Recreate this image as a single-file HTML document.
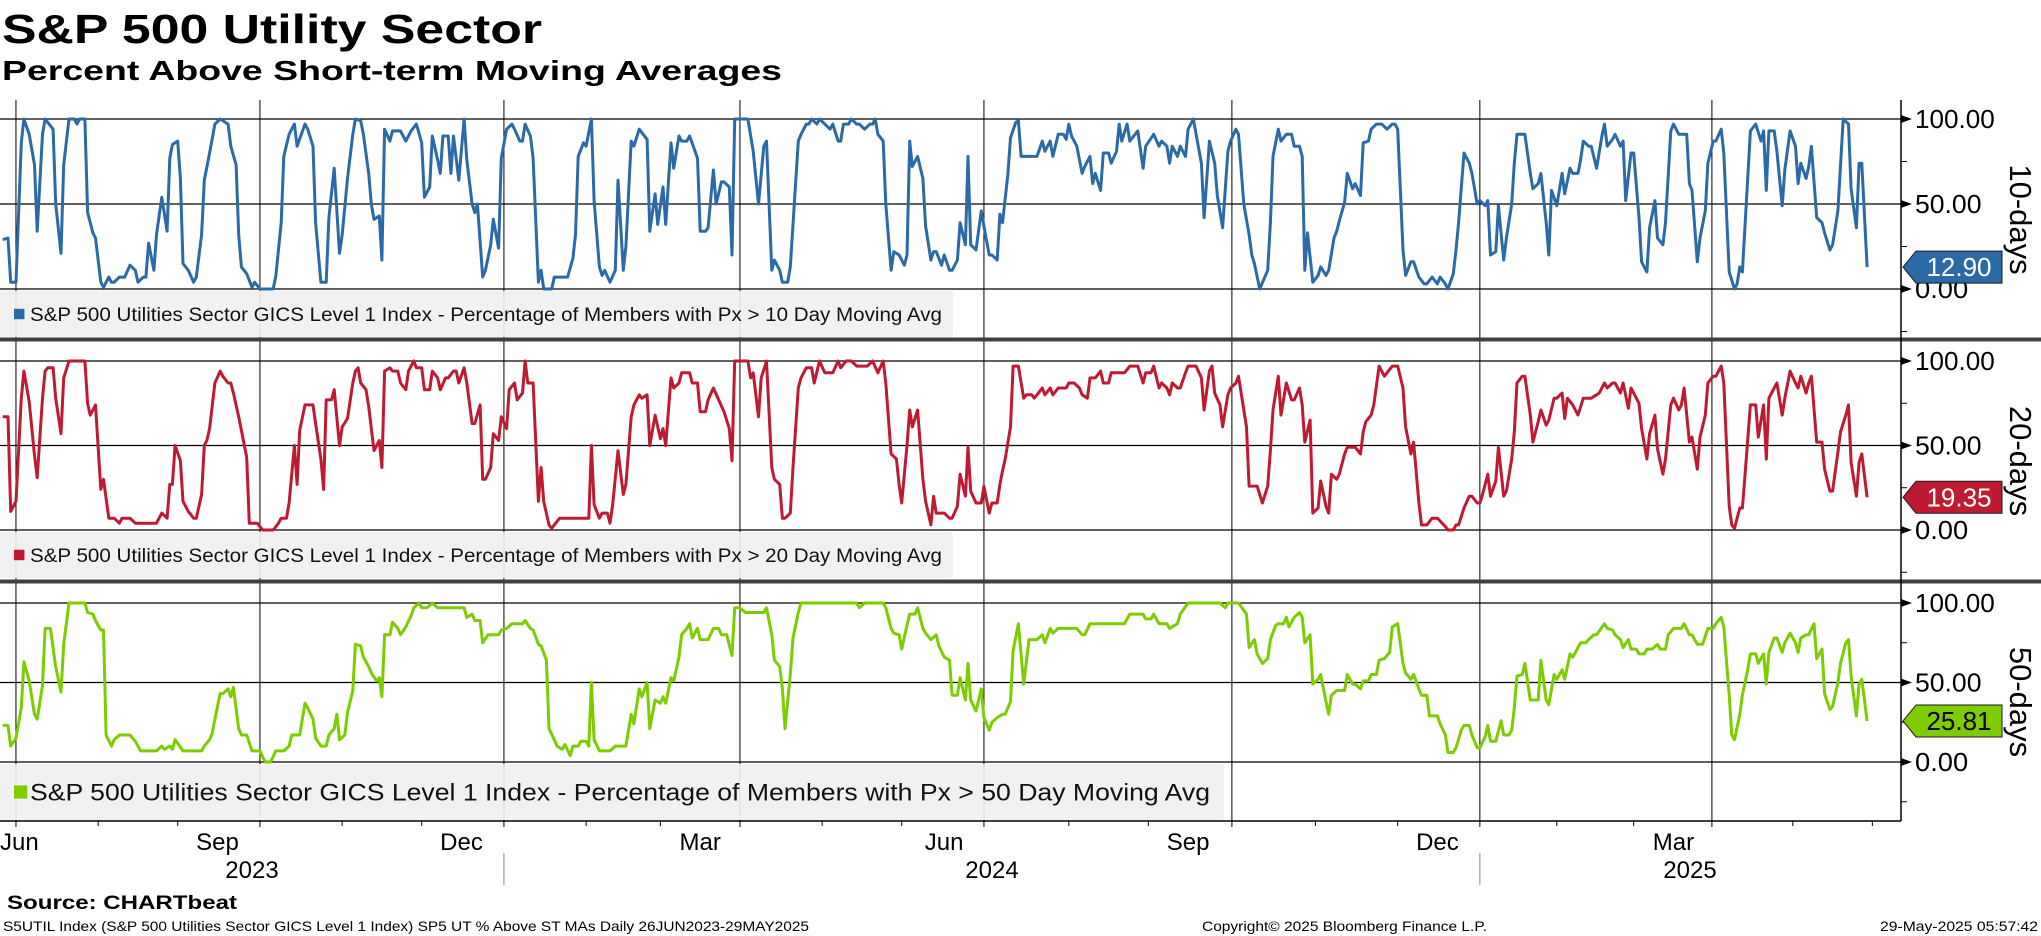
<!DOCTYPE html>
<html><head><meta charset="utf-8"><style>
html,body{margin:0;padding:0;background:#fff;}
svg{display:block;font-family:"Liberation Sans","DejaVu Sans",sans-serif;}
</style></head><body>
<svg id="chart" width="2041" height="936" viewBox="0 0 2041 936">
<text x="2" y="43" font-size="41" font-weight="bold" textLength="540" lengthAdjust="spacingAndGlyphs">S&amp;P 500 Utility Sector</text>
<text x="2" y="80" font-size="28" font-weight="bold" textLength="780" lengthAdjust="spacingAndGlyphs">Percent Above Short-term Moving Averages</text>
<g id="grid"></g>
<g id="legends"></g>
<g id="series"></g>
<g id="axes"></g>
<text x="7" y="909" font-size="19" font-weight="bold" textLength="230" lengthAdjust="spacingAndGlyphs">Source: CHARTbeat</text>
<text x="3" y="931" font-size="14" textLength="806" lengthAdjust="spacingAndGlyphs">S5UTIL Index (S&amp;P 500 Utilities Sector GICS Level 1 Index) SP5 UT % Above ST MAs  Daily 26JUN2023-29MAY2025</text>
<text x="1202" y="931" font-size="14" textLength="285" lengthAdjust="spacingAndGlyphs">Copyright© 2025 Bloomberg Finance L.P.</text>
<text x="1880" y="931" font-size="14" textLength="158" lengthAdjust="spacingAndGlyphs">29-May-2025 05:57:42</text>
</svg>
<script>
// ---- data (day offset from 26JUN2023 on trading-axis, value %) ----
const blueDays = [
0,2,3,5,7,8,10,12,13,15,
16,19,20,22,23,25,27,28,29,31,
32,34,35,37,38,40,41,42,44,46,
48,50,51,53,54,55,57,58,60,62,
63,64,66,67,68,70,72,73,75,76,
78,80,82,85,86,88,89,90,92,94,
95,97,102,103,105,106,108,110,111,114,
115,117,118,120,122,123,125,127,128,130,
132,133,135,136,138,139,140,142,143,144,
146,147,150,152,154,156,158,159,161,162,
164,165,166,168,169,170,172,174,175,177,
178,179,181,182,184,185,187,188,190,192,
193,195,196,197,199,200,202,203,204,207,
208,213,215,216,217,219,220,222,223,225,
226,227,229,231,232,234,235,237,
238,240,243,244,246,247,249,250,252,253,
255,256,258,259,262,263,265,266,268,269,
271,272,274,275,276,281,283,285,287,288,
290,291,293,294,296,297,300,301,303,304,
305,307,308,310,312,313,315,316,317,319,
320,322,323,325,327,328,329,330,332,333,
335,336,338,340,341,342,343,345,347,348,
350,351,352,354,355,357,358,360,361,363,
364,365,367,369,370,372,373,375,376,377,
379,380,382,383,384,390,392,393,395,396,
398,400,401,402,403,405,407,408,410,411,
412,414,415,417,418,420,421,422,424,425,
428,430,431,434,436,437,439,440,441,443,
444,446,447,449,450,452,453,455,457,458,
460,462,463,465,466,468,470,471,472,
474,477,478,479,481,482,484,486,487,489,
490,491,492,494,496,497,499,500,502,503,
504,506,507,509,510,512,513,515,516,518,
520,522,524,525,526,528,529,531,532,534,
536,537,539,541,542,544,545,547,548,549,
551,553,554,556,557,559,560,561,563,564,
566,567,569,570,571,574,576,577,579,580,
582,583,584,586,588,589,591,592,594,595,
596,598,599,601,603,604,605,607,608,610,
611,612,614,615,617,618,620,621,623,624,
626,627,629,630,632,635,636,637,639,640,
642,643,645,646,648,649,651,653,654,655,
656,659,661,663,664,665,666,668,669,671,
672,674,676,677,678,680,681,682,684,686,
687,689,690,692,694,696,697,699,700,701,
703];
const blueVals = [
29,30,4,4,86,100,91,73,34,91,
100,94,50,21,73,100,100,97,100,100,
45,33,30,4,1,7,4,4,7,7,
14,11,4,7,7,27,11,32,54,34,
77,85,87,65,15,11,4,7,32,64,
80,97,100,97,84,73,32,13,9,1,
4,0,0,8,39,78,91,97,84,97,
94,84,39,4,4,42,71,21,32,65,
91,100,99,91,68,50,41,43,17,94,
87,93,93,87,93,97,86,54,60,90,
76,68,90,90,68,90,64,100,76,50,
45,50,7,11,26,41,24,77,94,97,
94,87,87,97,90,77,4,11,0,0,
7,7,18,32,78,86,84,100,52,13,
8,11,4,11,64,11,25,87,
84,94,88,34,56,38,60,38,86,71,
90,87,87,90,77,34,34,36,70,50,
63,63,60,20,100,100,81,50,84,87,
11,17,11,4,4,13,87,91,97,97,
100,97,100,97,94,97,87,87,97,97,
100,97,97,94,97,97,100,91,87,50,
11,22,20,14,20,87,72,78,65,37,
17,22,22,14,20,11,11,17,39,26,
78,26,23,46,37,20,20,17,44,39,
67,89,98,99,78,78,87,81,87,78,
91,91,88,97,90,84,68,72,78,62,
68,58,80,80,74,81,97,87,97,87,
93,71,84,91,84,87,84,74,84,78,
84,78,94,100,91,74,42,87,74,55,
36,81,87,94,91,50,32,20,15,
0,11,39,78,94,87,91,91,84,84,
78,11,33,4,8,13,8,11,30,34,
40,51,68,59,62,55,86,87,94,97,
97,94,97,97,94,23,8,16,16,7,
3,3,7,3,7,3,0,9,23,39,
80,74,68,50,52,49,52,20,22,49,
17,30,50,74,91,91,68,59,62,68,
39,20,58,49,68,56,71,68,68,76,
87,84,84,71,90,97,84,88,91,84,
87,52,80,80,42,16,10,36,52,30,
26,39,93,97,91,91,62,58,16,30,
46,74,87,87,94,80,10,0,3,13,
10,93,97,87,93,58,93,93,81,49,
70,93,84,62,74,65,72,84,42,39,
33,23,26,46,100,97,59,36,74,74,
12.90];

const redDays = [
0,2,3,5,7,8,10,12,13,15,
16,17,19,20,22,23,25,31,32,33,
35,37,38,40,42,44,45,48,50,58,
60,62,63,64,65,67,68,70,72,73,
75,76,77,78,80,82,83,85,86,87,
89,90,92,93,96,98,102,104,105,107,
108,110,111,112,114,117,118,120,121,122,
124,125,127,128,130,132,133,134,135,137,
138,140,142,143,144,146,147,149,150,152,
153,155,156,158,159,161,162,164,165,167,
168,170,171,172,174,175,177,178,180,181,
182,184,185,187,188,190,191,193,194,196,
197,198,200,202,203,204,206,207,210,221,
222,223,225,226,228,229,230,232,234,235,
237,
238,240,241,243,244,246,248,249,250,252,
253,255,256,259,260,262,263,265,266,268,
270,272,274,275,276,281,282,283,285,286,
288,290,291,293,294,295,297,298,300,301,
303,305,306,308,310,313,315,316,318,320,
322,326,328,330,332,333,335,337,338,339,
341,342,343,345,347,348,350,351,352,355,
357,358,360,361,363,364,365,367,369,370,
372,373,375,376,377,378,380,381,383,385,
386,388,389,390,392,393,395,396,398,401,
402,404,406,407,409,410,412,414,415,417,
418,423,425,428,430,431,433,434,436,437,
439,440,441,443,444,446,447,450,452,453,
455,456,457,459,460,462,463,465,466,469,
470,473,
475,477,478,479,481,482,484,486,487,489,
490,491,493,494,496,497,499,500,501,503,
504,506,507,510,512,513,514,516,517,519,
521,524,526,528,529,531,532,534,535,537,
539,541,544,545,547,548,549,551,553,554,
556,557,558,560,561,563,564,566,567,569,
570,571,573,574,576,577,579,580,582,583,
585,586,588,589,590,592,594,596,599,601,
602,604,605,607,608,610,611,613,614,615,
617,618,620,621,623,624,626,627,629,630,
632,633,634,636,637,639,640,642,643,645,
646,648,649,651,652,653,655,656,657,659,
661,662,664,665,666,668,669,671,672,674,
676,677,678,680,681,682,684,686,687,689,
690,692,693,695,696,697,699,700,701,703];
const redVals = [
67,67,11,17,78,94,76,44,31,78,
94,96,96,78,57,90,100,100,75,68,
74,24,30,7,7,4,7,7,4,4,
10,7,27,27,50,41,17,11,7,7,
21,50,53,60,87,94,91,87,87,81,
67,59,43,4,4,0,0,4,7,7,
16,50,27,59,74,74,63,42,24,77,
77,83,50,61,66,87,94,96,87,83,
73,47,53,37,94,96,94,94,87,83,
94,100,96,96,83,83,94,90,83,90,
90,94,94,87,96,87,63,63,74,30,
30,37,57,53,67,60,83,87,77,81,
100,87,87,17,37,17,3,1,7,7,
50,15,7,10,10,4,15,47,21,27,
67,
74,80,78,80,50,68,54,60,50,90,
84,87,93,93,87,87,70,70,77,84,
77,70,60,41,100,100,90,93,67,90,
100,37,30,27,7,7,10,37,84,90,
96,96,87,100,93,93,100,96,100,100,
97,97,100,93,100,87,45,42,27,16,
50,71,61,71,30,17,3,20,10,10,
7,7,14,33,20,49,23,16,16,26,
10,16,16,27,35,42,61,97,97,78,
80,80,78,80,84,80,84,80,84,84,
87,87,84,80,78,90,90,94,87,87,
93,93,97,97,87,93,93,97,84,87,
84,80,87,84,84,93,97,97,90,71,
94,97,81,74,61,80,84,87,91,61,
26,26,
16,26,47,71,91,68,87,77,77,84,
74,52,65,10,13,29,14,10,33,30,
33,45,49,49,45,58,64,68,74,97,
91,97,97,84,61,45,52,16,3,3,
7,7,2,0,0,3,3,13,20,20,
16,16,21,33,20,29,49,20,23,42,
58,87,91,91,68,52,64,71,62,65,
78,78,81,66,78,74,68,78,78,80,
81,87,84,87,87,81,87,72,84,81,
75,60,42,57,68,48,33,42,74,78,
71,74,84,52,55,36,55,68,87,91,
91,97,87,14,3,1,13,13,33,74,
74,55,74,42,78,84,87,68,78,94,
87,84,91,81,87,91,52,52,36,23,
23,46,58,68,74,40,20,40,45,19.35];

const greenDays = [
0,2,3,5,7,8,10,12,13,15,
16,18,20,22,23,25,31,32,34,35,
37,38,39,41,42,44,48,50,52,58,
60,61,63,64,65,68,75,76,78,79,
80,82,83,85,86,87,89,90,92,94,
97,99,101,103,106,108,109,112,114,115,
117,118,120,122,123,125,126,127,129,130,
132,133,135,136,138,139,141,142,143,144,
146,147,149,150,152,154,155,157,158,160,
162,164,174,175,177,178,180,181,183,187,
188,190,192,196,197,199,200,202,203,205,
206,208,209,211,212,214,215,217,218,220,
221,222,223,225,229,231,235,237,
238,240,241,243,244,246,248,249,250,252,
253,255,256,258,259,260,262,263,266,268,
270,271,273,275,276,278,280,287,288,290,
291,293,294,295,297,298,300,301,322,323,
325,332,333,335,336,338,339,341,342,344,
345,347,348,350,352,353,355,357,358,360,
361,363,364,365,367,369,370,372,373,375,
377,378,380,381,383,385,386,387,390,392,
393,395,396,398,405,407,408,410,423,425,
430,431,433,434,436,439,440,443,444,447,
459,461,462,466,469,470,472,473,
475,477,478,480,481,483,484,485,487,489,
490,491,493,494,496,497,499,500,501,503,
506,507,509,510,512,513,515,516,518,519,
521,523,524,526,528,529,531,532,534,535,
537,538,541,542,544,545,547,548,550,551,
553,554,556,557,559,560,561,563,565,566,
568,569,570,571,573,574,576,579,580,582,
583,585,586,588,589,591,592,594,595,597,
598,600,601,604,605,607,608,610,611,613,
614,616,617,619,620,622,624,625,627,628,
630,633,634,636,637,639,641,643,645,646,
648,649,651,652,653,655,656,658,659,661,
662,664,665,666,668,669,671,672,674,676,
677,678,680,681,683,684,686,687,689,690,
692,693,695,696,697,699,700,701,703];
const greenVals = [
23,23,10,15,34,63,51,30,27,48,
84,84,60,44,74,100,100,94,93,89,
83,83,17,10,14,17,17,13,7,7,
10,8,10,8,14,7,7,10,14,18,
27,43,43,46,41,47,21,17,17,7,
7,0,0,7,7,10,17,17,37,34,
27,15,10,10,17,21,30,14,17,31,
45,74,73,66,60,56,51,53,41,80,
80,88,84,80,85,92,97,100,97,97,
100,97,97,91,93,89,89,75,80,80,
83,84,87,87,89,84,83,74,73,64,
21,14,10,8,11,4,10,10,13,13,
10,50,14,7,7,10,10,30,
24,46,41,50,21,39,37,41,37,53,
51,66,80,84,87,78,84,77,77,84,
84,80,80,67,97,97,94,94,97,80,
64,60,46,21,55,78,94,100,100,97,
100,100,97,84,81,80,71,86,93,93,
97,84,81,77,80,73,66,64,42,42,
53,39,62,39,32,46,28,20,25,28,
30,30,38,70,87,49,63,77,77,80,
75,84,81,84,84,80,80,87,87,93,
93,90,90,93,87,87,84,87,93,100,
100,97,100,100,93,72,77,68,
62,65,77,86,87,87,91,85,91,94,
91,75,80,49,52,55,38,30,42,45,
45,55,49,49,46,51,51,55,55,64,
65,69,85,87,62,56,52,55,46,42,
42,29,29,24,17,6,6,9,20,23,
23,17,9,9,16,23,13,13,26,17,
17,20,34,54,55,62,39,39,64,39,
36,55,52,58,52,68,66,72,75,75,
77,80,80,87,84,83,80,77,72,77,
71,71,68,68,71,71,74,71,71,80,
84,84,87,80,80,74,74,84,84,87,
91,85,42,17,14,30,42,58,68,68,
62,68,49,69,78,78,69,75,81,75,
69,78,80,80,87,65,71,43,33,35,
50,62,75,77,54,29,49,52,25.81];

const monthNames = ["Jun","Sep","Dec","Mar","Jun","Sep","Dec","Mar"];
const yearLabels = ["2023","2024","2025"];
const yTickVals = [100,50,0];
const yTickLabels = ["100.00","50.00","0.00"];
const minorTickVals = [125,75,25,-25];

// ---- axis functions ----
const X0 = 2.7, DX = 2.652, PLOT_R = 1901;
function xS(d){ return X0 + d*DX; }
const panels = [
 {top:100,bottom:339,y100:119,y0:289,name:'10-days'},
 {top:341,bottom:581,y100:361,y0:530,name:'20-days'},
 {top:583,bottom:821,y100:603,y0:762,name:'50-days'}
];
function yS(p,v){ return p.y0 - v*(p.y0-p.y100)/100; }

const NS='http://www.w3.org/2000/svg';
function mk(tag, attrs, parent){
  const e=document.createElementNS(NS,tag);
  for(const k in attrs) e.setAttribute(k,attrs[k]);
  parent.appendChild(e); return e;
}
const grid=document.getElementById('grid');
const legends=document.getElementById('legends');
const series=document.getElementById('series');
const axes=document.getElementById('axes');

// quarter gridlines (trading-axis positions in days)
const quarterDays=[5,97,189,278,370,463.5,557,644.5];
const monthDays=[36,66,128,158,220,248,309,339,402,432,495,526,586,615,675,705];
const labelMid=[ -1,81,173,263,355,447,541,630];

panels.forEach((p,pi)=>{
  quarterDays.forEach(d=>{
    const l=mk('line',{x1:xS(d),x2:xS(d),y1:p.top,y2:p.bottom,stroke:'#000','stroke-width':1},grid);
    
    
  });
  yTickVals.forEach(v=>{
    const l=mk('line',{x1:0,x2:PLOT_R,y1:yS(p,v),y2:yS(p,v),stroke:'#000','stroke-width':1.2},grid);
    
    
  });
});

// legends
const legendDefs=[
 {p:0,color:'#2b6aa6',txt:'S&P 500 Utilities Sector GICS Level 1 Index - Percentage of Members with Px > 10 Day Moving Avg',w:953,fs:19,tl:912,h:46},
 {p:1,color:'#be1a32',txt:'S&P 500 Utilities Sector GICS Level 1 Index - Percentage of Members with Px > 20 Day Moving Avg',w:953,fs:19,tl:912,h:46},
 {p:2,color:'#7ccc00',txt:'S&P 500 Utilities Sector GICS Level 1 Index - Percentage of Members with Px > 50 Day Moving Avg',w:1224,fs:24,tl:1180,h:56}
];
legendDefs.forEach((L,i)=>{
  const p=panels[L.p];
  const top=p.y0+2;
  const g=mk('g',{},legends);
  
  
  mk('rect',{x:0,y:top,width:L.w,height:L.h,rx:3,fill:'#f0f0f0','fill-opacity':0.92},g);
  const sq=L.fs*0.55;
  mk('rect',{x:14,y:top+L.h/2-sq/2,width:sq,height:sq,fill:L.color},g);
  const t=mk('text',{x:30,y:top+L.h/2+L.fs*0.36,'font-size':L.fs,fill:'#111',textLength:L.tl,lengthAdjust:'spacingAndGlyphs'},g);
  t.textContent=L.txt;
});

// separators
[339.5,581.5].forEach(y=>{
  const s=mk('rect',{x:0,y:y-2,width:2041,height:4,fill:'#404040'},axes);
  
  
});

// series lines
const seriesDefs=[
 {days:blueDays,vals:blueVals,p:0,color:'#2b6aa6',name:'line-10-day'},
 {days:redDays,vals:redVals,p:1,color:'#be1a32',name:'line-20-day'},
 {days:greenDays,vals:greenVals,p:2,color:'#7ccc00',name:'line-50-day'}
];
seriesDefs.forEach(S=>{
  const p=panels[S.p];
  const pts=S.days.map((d,i)=>xS(d).toFixed(1)+','+yS(p,S.vals[i]).toFixed(1)).join(' ');
  const pl=mk('polyline',{points:pts,fill:'none',stroke:S.color,'stroke-width':3,'stroke-linejoin':'round'},series);
  
  
});

// right axis
const ax=mk('line',{x1:PLOT_R,x2:PLOT_R,y1:100,y2:821,stroke:'#000','stroke-width':1.5},axes);


panels.forEach((p,pi)=>{
  yTickVals.forEach((v,i)=>{
    const y=yS(p,v);
    mk('polygon',{points:(PLOT_R)+','+(y-4)+' '+(PLOT_R+11)+','+y+' '+(PLOT_R)+','+(y+4),fill:'#000'},axes);
    const t=mk('text',{x:1915,y:y+9,'font-size':26,fill:'#000',textLength:(yTickLabels[i].length*13.3),lengthAdjust:'spacingAndGlyphs'},axes);
    t.textContent=yTickLabels[i];
    
    
  });
  minorTickVals.forEach(v=>{
    const y=yS(p,v);
    if(y>p.top+2 && y<p.bottom-2) mk('line',{x1:PLOT_R,x2:PLOT_R+6,y1:y,y2:y,stroke:'#000','stroke-width':1},axes);
  });
  const cy=(p.top+p.bottom)/2;
  const t=mk('text',{x:2010,y:cy,'font-size':31,'text-anchor':'middle',transform:'rotate(90 2010 '+cy+')',fill:'#000'},axes);
  t.textContent=p.name;
  
  
});

// value badges
seriesDefs.forEach((S,i)=>{
  const p=panels[S.p];
  const last=S.vals[S.vals.length-1];
  const y=yS(p,last);
  const g=mk('g',{},axes);
  
  
  mk('polygon',{points:'1903,'+y+' 1916,'+(y-16)+' 2002,'+(y-16)+' 2002,'+(y+16)+' 1916,'+(y+16),fill:S.color,stroke:'#1a1a1a','stroke-width':1},g);
  const t=mk('text',{x:1959,y:y+9,'font-size':26,'text-anchor':'middle',fill:(i==2?'#000':'#fff')},g);
  t.textContent=last.toFixed(2);
});

// x axis
const xa=mk('line',{x1:0,x2:PLOT_R,y1:821,y2:821,stroke:'#000','stroke-width':1.5},axes);


quarterDays.forEach(d=>mk('line',{x1:xS(d),x2:xS(d),y1:821,y2:827,stroke:'#000','stroke-width':1},axes));
monthDays.forEach(d=>mk('line',{x1:xS(d),x2:xS(d),y1:821,y2:826,stroke:'#000','stroke-width':1},axes));
monthNames.forEach((m,i)=>{
  const x=i==0?0:xS(labelMid[i]);
  const t=mk('text',{x:x,y:850,'font-size':24,'text-anchor':i==0?'start':'middle',fill:'#000'},axes);
  t.textContent=m;
  
  
});
const yearCenters=[252,992,1690];
yearLabels.forEach((yl,i)=>{
  const t=mk('text',{x:yearCenters[i],y:878,'font-size':24,'text-anchor':'middle',fill:'#000'},axes);
  t.textContent=yl;
  
  
});
[189,557].forEach(d=>mk('line',{x1:xS(d),x2:xS(d),y1:853,y2:885,stroke:'#888','stroke-width':1},axes));
</script>
</body></html>
